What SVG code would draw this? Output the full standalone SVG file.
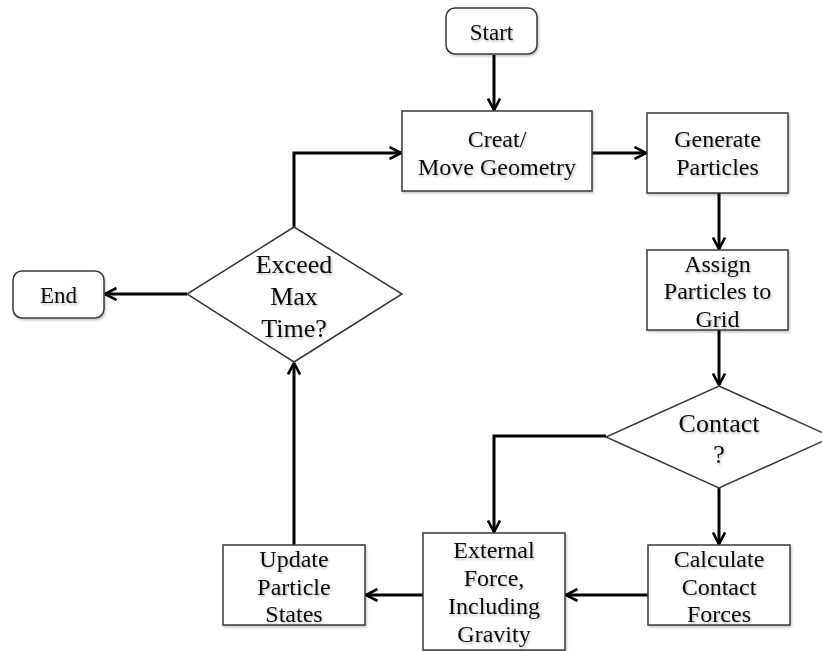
<svg xmlns="http://www.w3.org/2000/svg" width="822" height="651" viewBox="0 0 822 651">
  <style>
    .box { fill: #ffffff; stroke: #3a3a3a; stroke-width: 1.5; }
    .lbl { font-family: "Liberation Serif", "Times New Roman", serif; fill: #111111; text-anchor: middle; filter: url(#soft); }
    .s22 { font-size: 23px; }
    .s24 { font-size: 24px; }
    .s26 { font-size: 26px; }
    .wire { fill: none; stroke: #000000; stroke-width: 3; marker-end: url(#arrow); }
    .wire.plain { marker-end: none; }
  </style>
  <defs>
    <filter id="soft" x="-10%" y="-10%" width="130%" height="140%">
      <feDropShadow dx="1" dy="1.5" stdDeviation="1" flood-color="#000000" flood-opacity="0.3"/>
    </filter>
    <filter id="boxshadow" x="-5%" y="-5%" width="115%" height="120%">
      <feDropShadow dx="1" dy="1.5" stdDeviation="1" flood-color="#000000" flood-opacity="0.25"/>
    </filter>
    <marker id="arrow" viewBox="0 0 14 14" markerWidth="14" markerHeight="14" refX="12.5" refY="7" orient="auto" markerUnits="userSpaceOnUse">
      <path d="M1,1 L12.5,7 L1,13" fill="none" stroke="#000000" stroke-width="2.6" stroke-linejoin="miter"/>
    </marker>
  </defs>

  <rect width="822" height="651" fill="#ffffff"/>

  <!-- connectors -->
  <g id="connectors">
    <path class="wire" d="M494,55 L494,110"/>
    <path class="wire" d="M592,153 L646,153"/>
    <path class="wire" d="M719,193 L719,249"/>
    <path class="wire" d="M719,330 L719,385"/>
    <path class="wire" d="M719,488 L719,544"/>
    <path class="wire" d="M606,436 L494,436 L494,532"/>
    <path class="wire" d="M648,595 L566,595"/>
    <path class="wire" d="M423,595 L366,595"/>
    <path class="wire" d="M294,545 L294,363"/>
    <path class="wire" d="M294,227 L294,153 L401,153"/>
    <path class="wire" d="M187,294 L105,294"/>
  </g>

  <!-- terminals -->
  <g id="start">
    <rect class="box" x="446" y="8" width="91" height="46" rx="9" filter="url(#boxshadow)"/>
    <text class="lbl s22" x="491.5" y="40">Start</text>
  </g>
  <g id="end">
    <rect class="box" x="13" y="271" width="91" height="47" rx="9" filter="url(#boxshadow)"/>
    <text class="lbl s22" x="58.5" y="303">End</text>
  </g>

  <!-- process steps -->
  <g id="create-geometry">
    <rect class="box" x="402" y="111" width="190" height="80" filter="url(#boxshadow)"/>
    <text class="lbl s24" x="497" y="147">Creat/</text>
    <text class="lbl s24" x="497" y="175">Move Geometry</text>
  </g>
  <g id="generate-particles">
    <rect class="box" x="647" y="113" width="141" height="80" filter="url(#boxshadow)"/>
    <text class="lbl s24" x="717.5" y="147">Generate</text>
    <text class="lbl s24" x="717.5" y="175">Particles</text>
  </g>
  <g id="assign-grid">
    <rect class="box" x="647" y="250" width="141" height="80" filter="url(#boxshadow)"/>
    <text class="lbl s24" x="717.5" y="272">Assign</text>
    <text class="lbl s24" x="717.5" y="299">Particles to</text>
    <text class="lbl s24" x="717.5" y="327">Grid</text>
  </g>
  <g id="calculate-forces">
    <rect class="box" x="648" y="545" width="142" height="80" filter="url(#boxshadow)"/>
    <text class="lbl s24" x="719" y="567">Calculate</text>
    <text class="lbl s24" x="719" y="595">Contact</text>
    <text class="lbl s24" x="719" y="622">Forces</text>
  </g>
  <g id="external-force">
    <rect class="box" x="423" y="533" width="142" height="117" filter="url(#boxshadow)"/>
    <text class="lbl s24" x="494" y="558">External</text>
    <text class="lbl s24" x="494" y="586">Force,</text>
    <text class="lbl s24" x="494" y="614">Including</text>
    <text class="lbl s24" x="494" y="642">Gravity</text>
  </g>
  <g id="update-states">
    <rect class="box" x="223" y="545" width="142" height="80" filter="url(#boxshadow)"/>
    <text class="lbl s24" x="294" y="567">Update</text>
    <text class="lbl s24" x="294" y="595">Particle</text>
    <text class="lbl s24" x="294" y="622">States</text>
  </g>

  <!-- decisions -->
  <g id="contact-check">
    <polygon class="box" points="719,386 832,437 719,488 606,437"/>
    <text class="lbl s26" x="719" y="432">Contact</text>
    <text class="lbl s26" x="719" y="463">?</text>
  </g>
  <g id="max-time-check">
    <polygon class="box" points="294,227 402,294 294,362 187,294"/>
    <text class="lbl s26" x="294" y="273">Exceed</text>
    <text class="lbl s26" x="294" y="305">Max</text>
    <text class="lbl s26" x="294" y="337">Time?</text>
  </g>
</svg>
